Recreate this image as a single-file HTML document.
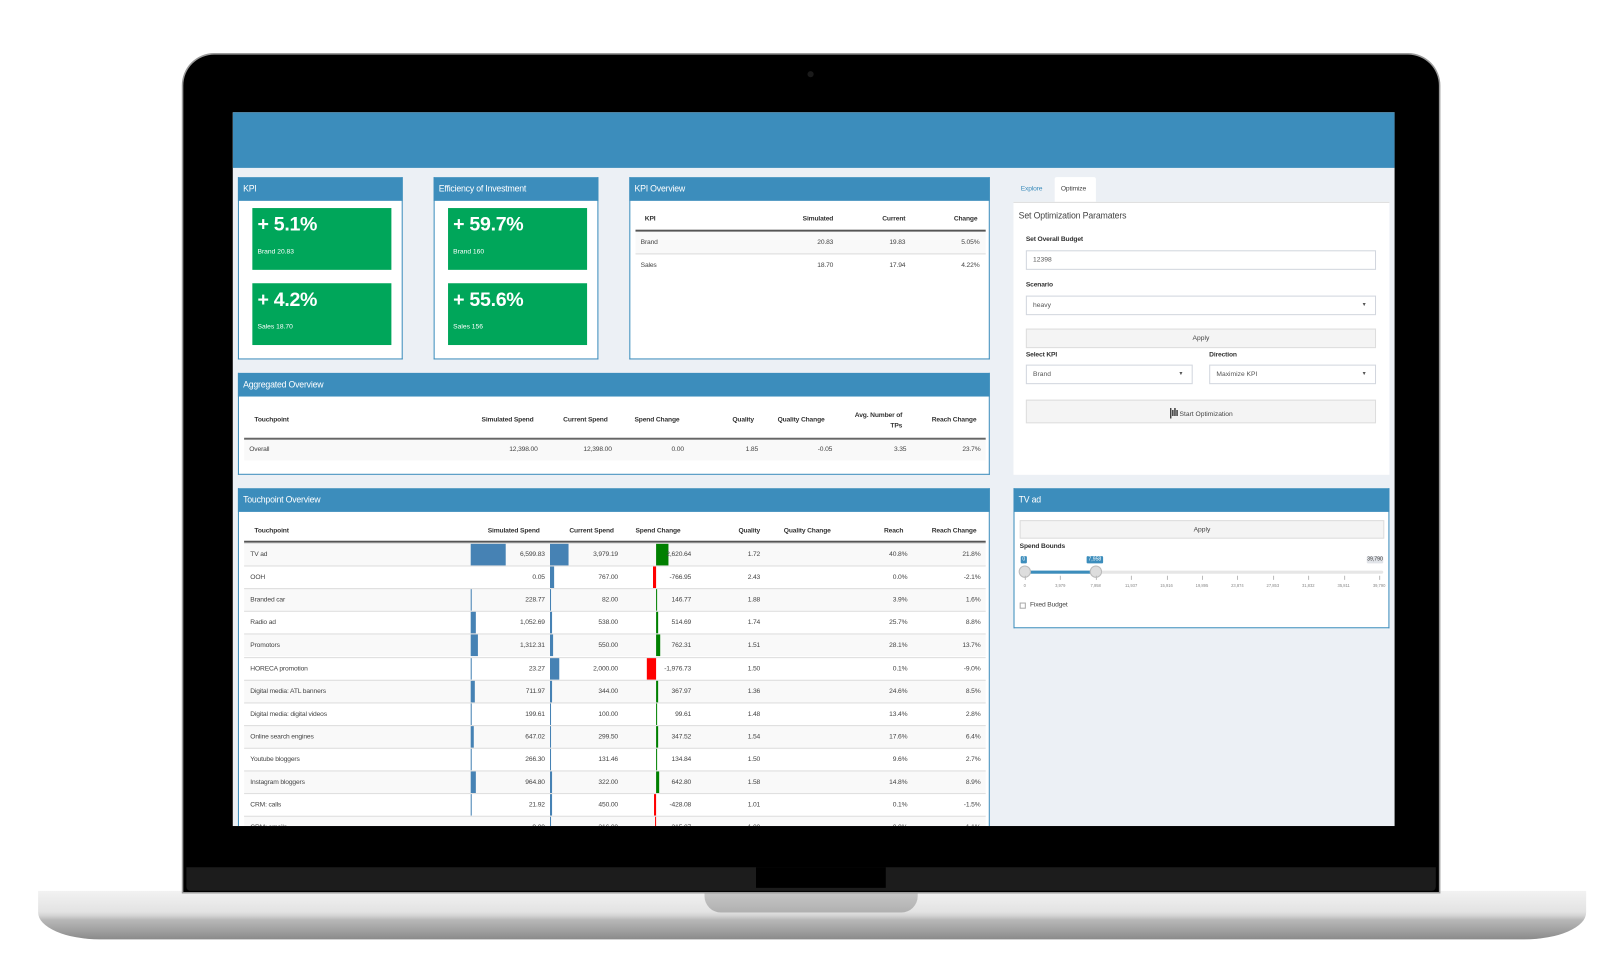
<!DOCTYPE html>
<html><head><meta charset="utf-8">
<style>
*{box-sizing:border-box;margin:0;padding:0}
html,body{width:1615px;height:970px;overflow:hidden;background:#fff}
body{font-family:"Liberation Sans",sans-serif;color:#333}
#w{position:absolute;left:0;top:0;width:1568px;height:942px;transform:scale(1.02997);transform-origin:0 0}
.a{position:absolute}
.bez{left:178px;top:53px;width:1219px;height:813px;background:#000;border-radius:30px 30px 0 0;box-shadow:0 0 0 1.5px #9a9a9a}
.strip{left:181px;top:842px;width:1213px;height:23px;background:#1c1c1c;border-radius:0 0 4px 4px}
.scr{left:226px;top:109px;width:1128px;height:693px;background:#ecf0f5;overflow:hidden}
.hdr{left:0;top:0;width:1128px;height:54px;background:#3c8dbc}
.pan{background:#fff;border:1px solid #3c8dbc;border-top:none}
.ph{position:absolute;left:-1px;top:0;right:-1px;height:23px;background:#3c8dbc;color:#fff;font-size:8.5px;line-height:23px;padding-left:5px;letter-spacing:-.2px}
.g{background:#00a65a;color:#fff}
.big{position:absolute;left:5px;top:6px;font-size:19px;font-weight:bold;letter-spacing:-.3px}
.sm{position:absolute;left:5px;top:39px;font-size:6.5px}
.t{position:absolute;font-size:6.5px;white-space:nowrap;letter-spacing:-.15px;color:#444}
.b{font-weight:bold;color:#333}
.r{text-align:right}
.row{position:absolute;left:5px;width:720px;height:22px;border-top:1px solid #ddd}
.st{background:#f9f9f9}
.cell{position:absolute;top:0;height:21px;line-height:21px;font-size:6.5px;text-align:right;letter-spacing:-.15px;color:#444}
.bar{position:absolute;top:0;height:21px}
.in{position:absolute;background:#fff;border:1px solid #d2d6de;font-size:6.5px;line-height:17px;padding-left:6px;color:#555}
.btn{position:absolute;background:#f4f4f4;border:1px solid #ddd;font-size:6.5px;text-align:center;color:#444}
.base{left:37px;top:865px;width:1503px;height:47px;border-radius:0 0 60px 60px/0 0 26px 26px;background:linear-gradient(#f2f2f2 0,#e3e3e3 20px,#d4d4d4 24px,#b8b8b8 28px,#9c9c9c 40px,#8a8a8a 47px)}
</style></head><body>
<div id="w">
<div class="a base"></div>
<div class="a" style="left:684px;top:865px;width:207px;height:21px;border-radius:0 0 16px 16px;background:linear-gradient(#c8c8c8,#b0b0b0)"></div>
<div class="a bez"></div>
<div class="a strip"></div>
<div class="a" style="left:734px;top:842px;width:126px;height:20px;background:#000"></div>
<div class="a" style="left:784px;top:69px;width:6px;height:6px;border-radius:3px;background:#1a1a1a"></div>

<div class="a scr">
<div class="a hdr"></div>

<!-- KPI -->
<div class="a pan" style="left:5px;top:63px;width:160px;height:177px"><div class="ph">KPI</div>
<div class="a g" style="left:13px;top:30px;width:135px;height:60px"><div class="big">+ 5.1%</div><div class="sm">Brand 20.83</div></div>
<div class="a g" style="left:13px;top:103px;width:135px;height:60px"><div class="big">+ 4.2%</div><div class="sm">Sales 18.70</div></div>
</div>
<div class="a pan" style="left:195px;top:63px;width:160px;height:177px"><div class="ph">Efficiency of Investment</div>
<div class="a g" style="left:13px;top:30px;width:135px;height:60px"><div class="big">+ 59.7%</div><div class="sm">Brand 160</div></div>
<div class="a g" style="left:13px;top:103px;width:135px;height:60px"><div class="big">+ 55.6%</div><div class="sm">Sales 156</div></div>
</div>

<!-- KPI overview -->
<div class="a pan" style="left:385px;top:63px;width:350px;height:177px"><div class="ph">KPI Overview</div>
<div class="t b" style="left:14px;top:37px">KPI</div>
<div class="t b r" style="left:120px;width:77px;top:37px">Simulated</div>
<div class="t b r" style="left:200px;width:67px;top:37px">Current</div>
<div class="t b r" style="left:270px;width:67px;top:37px">Change</div>
<div class="a" style="left:5px;top:51px;width:340px;height:2px;background:#555"></div>
<div class="a st" style="left:5px;top:53px;width:340px;height:22px;border-bottom:1px solid #ddd"></div>
<div class="t" style="left:10px;top:60px">Brand</div>
<div class="t r" style="left:120px;width:77px;top:60px">20.83</div>
<div class="t r" style="left:200px;width:67px;top:60px">19.83</div>
<div class="t r" style="left:270px;width:69px;top:60px">5.05%</div>
<div class="t" style="left:10px;top:82px">Sales</div>
<div class="t r" style="left:120px;width:77px;top:82px">18.70</div>
<div class="t r" style="left:200px;width:67px;top:82px">17.94</div>
<div class="t r" style="left:270px;width:69px;top:82px">4.22%</div>
</div>

<!-- Aggregated -->
<div class="a pan" style="left:5px;top:253px;width:730px;height:99px"><div class="ph">Aggregated Overview</div>
<div class="t b" style="left:15px;top:42px">Touchpoint</div>
<div class="t b r" style="left:200px;width:86px;top:42px">Simulated Spend</div>
<div class="t b r" style="left:290px;width:68px;top:42px">Current Spend</div>
<div class="t b" style="left:384px;top:42px">Spend Change</div>
<div class="t b r" style="left:440px;width:60px;top:42px">Quality</div>
<div class="t b" style="left:523px;top:42px">Quality Change</div>
<div class="t b r" style="left:580px;width:64px;top:37px;line-height:10px">Avg. Number of<br>TPs</div>
<div class="t b r" style="left:650px;width:66px;top:42px">Reach Change</div>
<div class="a" style="left:5px;top:63px;width:720px;height:2px;background:#666"></div>
<div class="a st" style="left:5px;top:65px;width:720px;height:20px"></div>
<div class="t" style="left:10px;top:71px">Overall</div>
<div class="t r" style="left:220px;width:70px;top:71px">12,398.00</div>
<div class="t r" style="left:290px;width:72px;top:71px">12,398.00</div>
<div class="t r" style="left:380px;width:52px;top:71px">0.00</div>
<div class="t r" style="left:450px;width:54px;top:71px">1.85</div>
<div class="t r" style="left:520px;width:56px;top:71px">-0.05</div>
<div class="t r" style="left:590px;width:58px;top:71px">3.35</div>
<div class="t r" style="left:660px;width:60px;top:71px">23.7%</div>
</div>

<!-- Touchpoint -->
<div class="a pan" style="left:5px;top:365px;width:730px;height:340px"><div class="ph">Touchpoint Overview</div>
<div class="t b" style="left:15px;top:38px">Touchpoint</div>
<div class="t b r" style="left:200px;width:92px;top:38px">Simulated Spend</div>
<div class="t b r" style="left:300px;width:64px;top:38px">Current Spend</div>
<div class="t b" style="left:385px;top:38px">Spend Change</div>
<div class="t b r" style="left:460px;width:46px;top:38px">Quality</div>
<div class="t b" style="left:529px;top:38px">Quality Change</div>
<div class="t b r" style="left:600px;width:45px;top:38px">Reach</div>
<div class="t b r" style="left:650px;width:66px;top:38px">Reach Change</div>
<div class="a" style="left:5px;top:51px;width:720px;height:2px;background:#555"></div>
<div id="rows"></div>
</div>

<!-- right tabs -->
<div class="t" style="left:765px;top:71px;color:#3c8dbc">Explore</div>
<div class="a" style="left:798px;top:63px;width:40px;height:24px;background:#fff;border-radius:2px 2px 0 0"></div>
<div class="t" style="left:804px;top:71px">Optimize</div>
<div class="a" style="left:758px;top:87px;width:365px;height:265px;background:#fff;border-top:1px solid #ddd"></div>
<div class="t" style="left:763px;top:95px;font-size:8.5px;color:#444">Set Optimization Paramaters</div>
<div class="t b" style="left:770px;top:120px">Set Overall Budget</div>
<div class="in" style="left:770px;top:134px;width:340px;height:19px">12398</div>
<div class="t b" style="left:770px;top:164px">Scenario</div>
<div class="in" style="left:770px;top:178px;width:340px;height:19px">heavy<span style="position:absolute;right:8px;font-size:5px">▼</span></div>
<div class="btn" style="left:770px;top:210px;width:340px;height:19px;line-height:18px">Apply</div>
<div class="t b" style="left:770px;top:232px">Select KPI</div>
<div class="t b" style="left:948px;top:232px">Direction</div>
<div class="in" style="left:770px;top:245px;width:162px;height:19px">Brand<span style="position:absolute;right:8px;font-size:5px">▼</span></div>
<div class="in" style="left:948px;top:245px;width:162px;height:19px">Maximize KPI<span style="position:absolute;right:8px;font-size:5px">▼</span></div>
<div class="btn" style="left:770px;top:279px;width:340px;height:23px;line-height:24px"><span style="font-size:11px;font-weight:bold;letter-spacing:-1px">|ılı</span> Start Optimization</div>

<!-- TV ad -->
<div class="a pan" style="left:758px;top:365px;width:365px;height:136px"><div class="ph">TV ad</div>
<div class="btn" style="left:5px;top:31px;width:354px;height:18px;line-height:17px">Apply</div>
<div class="t b" style="left:5px;top:53px">Spend Bounds</div>
<div class="a" style="left:6px;top:66px;width:6px;height:7px;background:#3c8dbc;border-radius:1px;color:#fff;font-size:5px;text-align:center;line-height:7px">0</div>
<div class="a" style="left:70px;top:66px;width:16px;height:7px;background:#3c8dbc;border-radius:1px;color:#fff;font-size:5px;text-align:center;line-height:7px">7,958</div>
<div class="a" style="left:342px;top:66px;width:16px;height:7px;background:#e1e4e9;border-radius:1px;color:#333;font-size:5px;text-align:center;line-height:7px">39,790</div>
<div class="a" style="left:10px;top:80px;width:348px;height:3px;background:#e6e6e6;border-radius:2px"></div>
<div class="a" style="left:10px;top:80px;width:69px;height:3px;background:#3c8dbc"></div>
<div class="a" style="left:4px;top:75px;width:12px;height:12px;border-radius:6px;background:#ddd;border:1px solid #bbb"></div>
<div class="a" style="left:73px;top:75px;width:12px;height:12px;border-radius:6px;background:#ddd;border:1px solid #bbb"></div>
<div id="ticks"></div>
<div class="a" style="left:5px;top:111px;width:6px;height:6px;border:1px solid #aaa"></div>
<div class="t" style="left:15px;top:110px">Fixed Budget</div>
</div>
</div>
</div>
<script>
var d=[["TV ad","6,599.83",34,"3,979.19",18,"2,620.64",12,"1.72","40.8%","21.8%"],
["OOH","0.05",0,"767.00",3.5,"-766.95",-3.5,"2.43","0.0%","-2.1%"],
["Branded car","228.77",1.2,"82.00",0.6,"146.77",0.7,"1.88","3.9%","1.6%"],
["Radio ad","1,052.69",5.4,"538.00",2.4,"514.69",2.4,"1.74","25.7%","8.8%"],
["Promotors","1,312.31",6.8,"550.00",2.5,"762.31",3.5,"1.51","28.1%","13.7%"],
["HORECA promotion","23.27",0.1,"2,000.00",9,"-1,976.73",-9,"1.50","0.1%","-9.0%"],
["Digital media: ATL banners","711.97",3.7,"344.00",1.6,"367.97",1.7,"1.36","24.6%","8.5%"],
["Digital media: digital videos","199.61",1,"100.00",0.5,"99.61",0.5,"1.48","13.4%","2.8%"],
["Online search engines","647.02",3.3,"299.50",1.4,"347.52",1.6,"1.54","17.6%","6.4%"],
["Youtube bloggers","266.30",1.4,"131.46",0.6,"134.84",0.6,"1.50","9.6%","2.7%"],
["Instagram bloggers","964.80",5,"322.00",1.5,"642.80",2.9,"1.58","14.8%","8.9%"],
["CRM: calls","21.92",0.1,"450.00",2,"-428.08",-2,"1.01","0.1%","-1.5%"],
["CRM: emails","9.00",0,"316.00",1.4,"-315.07",-1.4,"1.00","0.0%","-1.1%"]];
var h="";
d.forEach(function(r,i){
var top=53+22.1*i;
h+='<div class="row'+(i%2==0?' st':'')+'" style="top:'+top+'px">';
h+='<div class="cell" style="left:6px;text-align:left">'+r[0]+'</div>';
h+='<div class="bar" style="left:220px;width:'+r[2]+'px;background:#4682b4"></div>';
h+='<div class="cell" style="left:220px;width:72px">'+r[1]+'</div>';
h+='<div class="bar" style="left:297px;width:'+r[4]+'px;background:#4682b4"></div>';
h+='<div class="cell" style="left:297px;width:66px">'+r[3]+'</div>';
var c=r[6];
h+='<div class="bar" style="left:'+(c>=0?400:400+c)+'px;width:'+Math.abs(c)+'px;background:'+(c>=0?'#008000':'#ff0000')+'"></div>';
h+='<div class="cell" style="left:375px;width:59px">'+r[5]+'</div>';
h+='<div class="cell" style="left:455px;width:46px">'+r[7]+'</div>';
h+='<div class="cell" style="left:595px;width:49px">'+r[8]+'</div>';
h+='<div class="cell" style="left:665px;width:50px">'+r[9]+'</div>';
h+='</div>';});
document.getElementById("rows").innerHTML=h;
var tl=["0","3,979","7,958","11,937","15,916","19,895","23,874","27,853","31,832","35,811","39,790"],t="";
tl.forEach(function(s,i){var x=10+i*34.4;
t+='<div class="a" style="left:'+x+'px;top:85px;width:1px;height:4px;background:#bbb"></div>';
t+='<div class="a" style="left:'+(x-12)+'px;top:92px;width:24px;text-align:center;font-size:4px;color:#888">'+s+'</div>';});
document.getElementById("ticks").innerHTML=t;
</script>
</body></html>
